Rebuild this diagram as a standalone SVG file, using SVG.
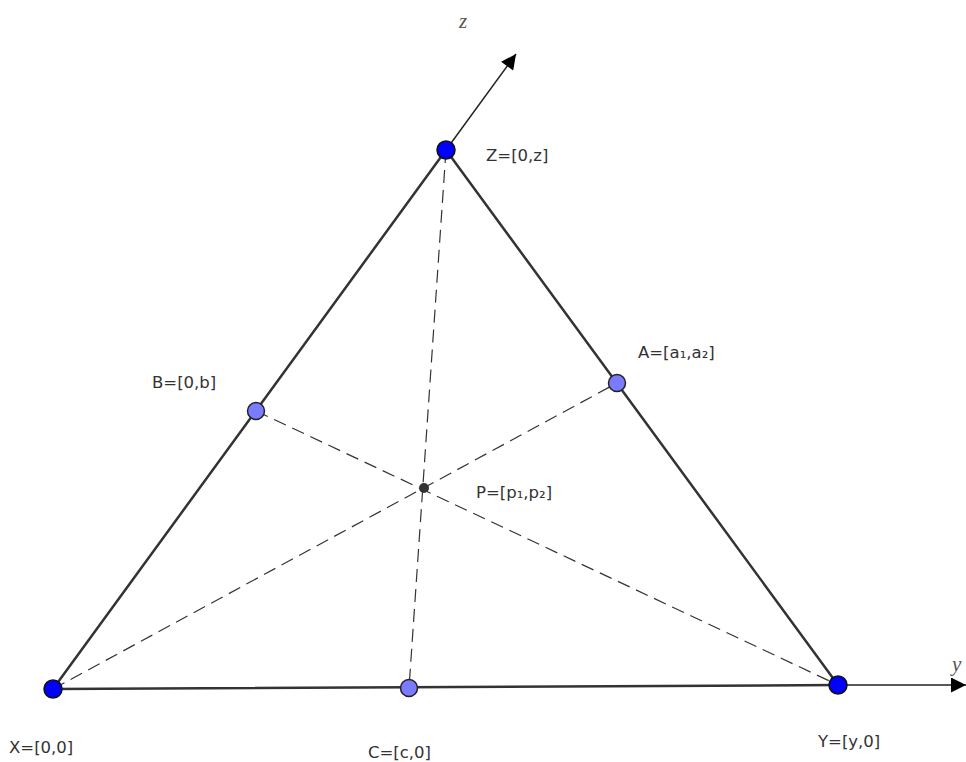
<svg xmlns="http://www.w3.org/2000/svg" width="966" height="762" viewBox="0 0 966 762">
<style>
.edge{stroke:#333;stroke-width:2.5;fill:none;stroke-linecap:round}
.dash{stroke:#333;stroke-width:1.2;fill:none;stroke-dasharray:13 7}
.axis{stroke:#222;stroke-width:1.5;fill:none}
.big{fill:#0000ff;stroke:#111;stroke-width:1.5}
.mid{fill:#7b7bff;stroke:#222;stroke-width:1.5}
.lbl{font-family:"DejaVu Sans",sans-serif;font-size:16.5px;fill:#333}
.ax{font-family:"Liberation Serif",serif;font-style:italic;font-size:21px;fill:#555}
</style>
<defs>
<marker id="ah" viewBox="0 0 10 10" refX="10" refY="5" markerWidth="22" markerHeight="15" markerUnits="userSpaceOnUse" orient="auto">
<path d="M0,0 L10,5 L0,10 z" fill="#000"/>
</marker>
</defs>
<g id="connectors">
<line class="edge" x1="53" y1="689" x2="446" y2="150"/>
<line class="edge" x1="446" y1="150" x2="838" y2="685"/>
<line class="edge" x1="53" y1="689" x2="838" y2="685"/>
<line class="dash" x1="53" y1="689" x2="617" y2="383"/>
<line class="dash" x1="256" y1="411" x2="838" y2="685"/>
<line class="dash" x1="446" y1="150" x2="409" y2="688"/>
<line class="axis" x1="446" y1="150" x2="516" y2="54" marker-end="url(#ah)"/>
<line class="axis" x1="838" y1="685" x2="966" y2="685" marker-end="url(#ah)"/>
</g>
<text class="ax" x="459" y="28">z</text>
<text class="ax" x="952" y="671">y</text>
<g id="Z"><circle class="big" cx="446" cy="150" r="9"/><text class="lbl" x="486" y="161">Z=[0,z]</text></g>
<g id="A"><circle class="mid" cx="617" cy="383" r="8.5"/><text class="lbl" x="638" y="358">A=[a₁,a₂]</text></g>
<g id="B"><circle class="mid" cx="256" cy="411" r="8.5"/><text class="lbl" x="152" y="388">B=[0,b]</text></g>
<g id="P"><circle cx="424" cy="488" r="5" fill="#333"/><text class="lbl" x="476" y="498">P=[p₁,p₂]</text></g>
<g id="X"><circle class="big" cx="53" cy="689" r="9"/><text class="lbl" x="9" y="753">X=[0,0]</text></g>
<g id="C"><circle class="mid" cx="409" cy="688" r="8.5"/><text class="lbl" x="368" y="758">C=[c,0]</text></g>
<g id="Y"><circle class="big" cx="838" cy="685" r="9"/><text class="lbl" x="818" y="747">Y=[y,0]</text></g>
</svg>
